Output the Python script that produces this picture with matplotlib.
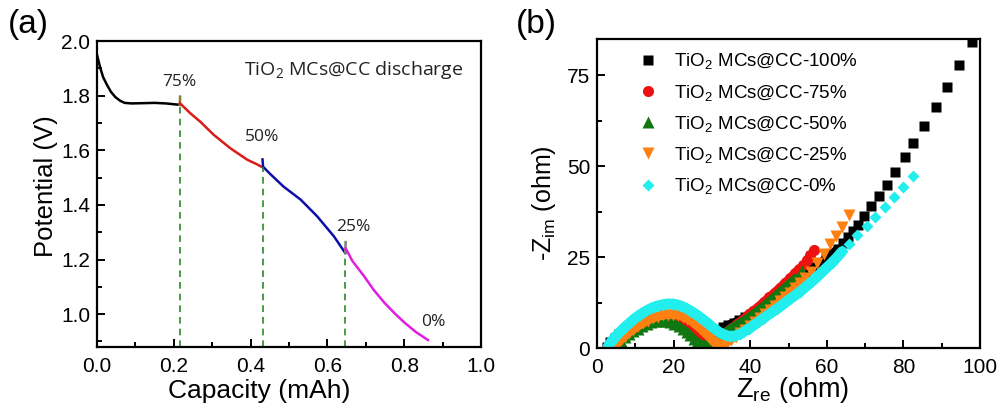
import matplotlib
matplotlib.use('Agg')
import matplotlib.pyplot as plt
from matplotlib.ticker import MultipleLocator

plt.rcParams['font.family'] = ['Liberation Sans', 'DejaVu Sans']
plt.rcParams['mathtext.default'] = 'regular'

# ---- (a) discharge curve (capacity mAh, potential V)
black_c = [0.0, 0.008, 0.016, 0.026, 0.036, 0.048, 0.060, 0.072, 0.09, 0.12, 0.15, 0.18, 0.20, 0.2155]
black_v = [1.950, 1.905, 1.868, 1.840, 1.815, 1.795, 1.782, 1.774, 1.772, 1.773, 1.774, 1.772, 1.769, 1.767]
spike1_c = [0.2155, 0.2165]
spike1_v = [1.767, 1.797]
red_c = [0.2165, 0.243, 0.269, 0.304, 0.347, 0.391, 0.415, 0.431]
red_v = [1.772, 1.736, 1.705, 1.657, 1.608, 1.566, 1.550, 1.538]
blue_c = [0.431, 0.4325, 0.45, 0.486, 0.53, 0.573, 0.617, 0.6465]
blue_v = [1.567, 1.540, 1.515, 1.467, 1.420, 1.359, 1.285, 1.224]
spike3_c = [0.6465, 0.6475]
spike3_v = [1.224, 1.264]
mag_c = [0.648, 0.665, 0.695, 0.72, 0.747, 0.775, 0.80, 0.83, 0.862]
mag_v = [1.240, 1.195, 1.140, 1.090, 1.044, 1.003, 0.970, 0.935, 0.905]
cut_c = [0.2155, 0.431, 0.6465]
cut_v = [1.767, 1.538, 1.224]
pct_labels = ['75%', '50%', '25%', '0%']
pct_c = [0.215, 0.43, 0.668, 0.876]
pct_v = [1.85, 1.65, 1.32, 0.97]

# ---- (b) Nyquist plots (Z_re, -Z_im in ohm)
x100 = [2.5, 3.5, 4.6, 5.8, 7.0, 8.3, 9.6, 11.0, 12.4, 13.8, 15.2, 16.6, 18.0, 19.4, 20.8,
        22.2, 23.5, 24.8, 26.0, 27.1, 28.1, 29.0, 29.9, 30.8, 31.8, 33.0, 34.3, 35.7, 37.2,
        38.7, 40.2, 41.7, 43.2, 44.7, 46.2, 47.7, 49.2, 50.7, 52.2, 53.7, 55.2, 56.7, 58.2,
        59.7, 61.2, 62.8, 64.1, 65.5, 66.9, 68.2, 69.8, 71.6, 73.7, 75.8, 77.9, 80.3, 82.6,
        85.3, 88.4, 91.3, 94.5, 97.9]
y100 = [0.3, 1.6, 2.8, 3.9, 4.9, 5.8, 6.6, 7.3, 7.8, 8.2, 8.4, 8.5, 8.4, 8.1, 7.6,
        6.9, 6.1, 5.2, 4.4, 3.8, 3.4, 3.3, 3.5, 4.1, 4.9, 5.7, 6.4, 7.0, 7.7,
        8.5, 9.3, 10.3, 11.4, 12.6, 13.8, 15.0, 16.2, 17.4, 18.6, 19.8, 21.0, 22.2, 23.4,
        24.6, 25.9, 27.3, 29.0, 30.7, 32.3, 34.0, 36.3, 39.0, 41.8, 45.0, 48.4, 52.5, 56.3,
        61.0, 66.2, 71.7, 78.0, 84.3]
x75 = [4.2, 5.0, 5.9, 6.9, 8.0, 9.2, 10.4, 11.7, 13.0, 14.3, 15.6, 16.9, 18.2, 19.5, 20.8,
       22.0, 23.2, 24.3, 25.4, 26.4, 27.3, 28.1, 28.9, 29.6, 30.4, 31.4, 32.6, 33.9, 35.2,
       36.6, 38.0, 39.4, 40.8, 42.2, 43.6, 45.0, 46.4, 47.8, 49.2, 50.5, 51.7, 52.8, 53.9,
       54.7, 55.5, 56.6]
y75 = [0.3, 1.4, 2.4, 3.4, 4.3, 5.2, 6.0, 6.7, 7.3, 7.8, 8.1, 8.3, 8.3, 8.1, 7.7,
       7.1, 6.4, 5.6, 4.7, 3.8, 3.0, 2.4, 2.0, 1.9, 2.1, 2.7, 3.5, 4.5, 5.6,
       6.7, 7.8, 9.0, 10.2, 11.4, 12.7, 14.0, 15.3, 16.6, 18.0, 19.3, 20.6, 21.7, 22.8,
       24.2, 25.5, 27.0]
x50 = [4.5, 5.3, 6.2, 7.2, 8.3, 9.4, 10.6, 11.8, 13.0, 14.2, 15.4, 16.6, 17.8, 19.0, 20.2,
       21.3, 22.4, 23.4, 24.3, 25.2, 26.0, 26.8, 27.6, 28.4, 29.3, 30.3, 31.4, 32.6, 33.9,
       35.2, 36.6, 38.0, 39.4, 40.8, 42.2, 43.6, 45.0, 46.4, 47.8, 49.2, 50.5, 51.8, 53.0,
       53.6]
y50 = [0.3, 1.2, 2.1, 3.0, 3.9, 4.7, 5.4, 6.1, 6.7, 7.1, 7.4, 7.5, 7.4, 7.1, 6.6,
       6.0, 5.2, 4.4, 3.5, 2.6, 1.8, 1.2, 0.9, 1.0, 1.5, 2.2, 3.0, 3.8, 4.7,
       5.6, 6.5, 7.4, 8.3, 9.4, 10.5, 11.7, 12.9, 14.2, 15.5, 16.8, 18.0, 19.2, 20.4,
       21.2]
x25 = [4.5, 5.3, 6.2, 7.2, 8.3, 9.5, 10.7, 12.0, 13.3, 14.6, 15.9, 17.2, 18.5, 19.8, 21.1,
       22.4, 23.6, 24.8, 25.9, 26.9, 27.9, 28.8, 29.6, 30.4, 31.2, 32.0, 32.9, 33.9, 35.0,
       36.2, 37.4, 38.7, 40.0, 41.3, 42.6, 43.9, 45.2, 46.5, 47.8, 49.1, 50.4, 51.7, 53.0,
       54.3, 55.8, 57.4, 59.2, 60.9, 62.3, 64.0, 65.8]
y25 = [0.3, 1.2, 2.2, 3.2, 4.2, 5.1, 6.0, 6.8, 7.6, 8.2, 8.7, 9.0, 9.2, 9.2, 9.0,
       8.6, 8.0, 7.2, 6.3, 5.4, 4.4, 3.5, 2.6, 1.8, 1.2, 0.9, 1.0, 1.5, 2.3,
       3.2, 4.1, 5.1, 6.2, 7.2, 8.3, 9.4, 10.5, 11.7, 12.9, 14.1, 15.3, 16.6, 17.9,
       19.2, 21.0, 23.4, 26.0, 28.6, 30.8, 33.4, 36.6]
x0 = [2.8, 3.4, 4.1, 4.9, 5.8, 6.8, 7.8, 8.9, 10.0, 11.2, 12.4, 13.6, 14.8, 16.0, 17.2,
      18.4, 19.6, 20.8, 22.0, 23.2, 24.4, 25.6, 26.8, 27.9, 29.0, 30.0, 31.0, 31.9, 32.8,
      33.7, 34.6, 35.5, 36.4, 37.4, 38.5, 39.7, 40.9, 42.1, 43.3, 44.5, 45.7, 46.9, 48.1,
      49.3, 50.5, 51.7, 52.9, 54.1, 55.3, 56.5, 57.7, 58.9, 60.1, 61.3, 62.5, 64.0, 65.8,
      68.0, 70.4, 72.7, 75.1, 77.6, 80.0, 82.4]
y0 = [0.3, 1.3, 2.3, 3.3, 4.3, 5.3, 6.3, 7.3, 8.3, 9.2, 10.0, 10.7, 11.3, 11.7, 12.0,
      12.2, 12.2, 12.0, 11.6, 11.0, 10.3, 9.5, 8.6, 7.7, 6.8, 5.9, 5.1, 4.4, 3.9,
      3.5, 3.3, 3.3, 3.5, 3.9, 4.6, 5.4, 6.3, 7.2, 8.1, 9.0, 9.9, 10.8, 11.7,
      12.7, 13.6, 14.5, 15.5, 16.5, 17.6, 18.7, 19.9, 21.1, 22.3, 23.5, 24.8, 26.6, 28.6,
      31.0, 33.7, 36.1, 38.7, 41.5, 44.2, 47.3]
legend_labels = ['TiO$_2$ MCs@CC-100%', 'TiO$_2$ MCs@CC-75%', 'TiO$_2$ MCs@CC-50%',
                 'TiO$_2$ MCs@CC-25%', 'TiO$_2$ MCs@CC-0%']

fig = plt.figure(figsize=(10, 4.12), dpi=100)
ax1 = fig.add_axes([0.097, 0.158, 0.384, 0.742])
ax2 = fig.add_axes([0.597, 0.155, 0.383, 0.750])

ann = ['Open Sans', 'DejaVu Sans']
lw = 1.8
ax1.plot(black_c, black_v, color='black', lw=lw)
ax1.plot(spike1_c, spike1_v, color='#8a7a30', lw=lw)
ax1.plot(red_c, red_v, color='#dc1a1a', lw=lw)
ax1.plot(blue_c, blue_v, color='#0d0da8', lw=lw)
ax1.plot(spike3_c, spike3_v, color='#7f7f7f', lw=lw)
ax1.plot(mag_c, mag_v, color='#e01ee0', lw=lw)
ax1.vlines(cut_c, 0.88, cut_v, colors='#2a8a2a', linestyles=(0, (4, 3)), lw=1.2)
for t, c, v in zip(pct_labels, pct_c, pct_v):
    ax1.text(c, v, t, ha='center', va='center', fontsize=12.5, family=ann, color='#222222')
ax1.text(0.955, 0.905, 'TiO$_2$ MCs@CC discharge', transform=ax1.transAxes, ha='right',
         va='center', fontsize=14, family=ann, color='#222222')
ax1.set_xlim(0, 1.0)
ax1.set_ylim(0.88, 2.0)
ax1.xaxis.set_minor_locator(MultipleLocator(0.1))
ax1.yaxis.set_minor_locator(MultipleLocator(0.1))
ax1.set_xticks([0.0, 0.2, 0.4, 0.6, 0.8, 1.0])
ax1.set_xticklabels(['0.0', '0.2', '0.4', '0.6', '0.8', '1.0'])
ax1.set_yticks([1.0, 1.2, 1.4, 1.6, 1.8, 2.0])
ax1.set_yticklabels(['1.0', '1.2', '1.4', '1.6', '1.8', '2.0'])
ax1.set_xlabel('Capacity (mAh)', fontsize=19, va='center')
ax1.xaxis.set_label_coords(0.423, -0.145)
ax1.set_ylabel('Potential (V)', fontsize=18.5, va='center')
ax1.yaxis.set_label_coords(-0.132, 0.525)

# (marker, colour, marker size, line width of the dense band, points in the dense band)
styles = [('s', 'black', 7.5, 6.0, 46),
          ('o', '#ee1111', 8.0, 6.5, 42),
          ('^', '#117711', 8.5, 6.0, 42),
          ('v', '#ff8010', 8.5, 6.0, 43),
          ('D', '#22eeee', 6.3, 7.5, 56)]
series = [(x100, y100), (x75, y75), (x50, y50), (x25, y25), (x0, y0)]
for (xs, ys), (mk, col, ms, blw, nd), lab in zip(series, styles, legend_labels):
    ax2.plot(xs[:nd], ys[:nd], '-', color=col, lw=blw, solid_capstyle='round', zorder=2)
    ax2.plot(xs, ys, mk, color=col, ms=ms, mec='none', label=lab, zorder=2)
ax2.set_xlim(0, 100)
ax2.set_ylim(0, 85)
ax2.xaxis.set_major_locator(MultipleLocator(20))
ax2.xaxis.set_minor_locator(MultipleLocator(10))
ax2.yaxis.set_major_locator(MultipleLocator(25))
ax2.yaxis.set_minor_locator(MultipleLocator(12.5))
ax2.set_xlabel('Z$_{re}$ (ohm)', fontsize=19.5, va='center')
ax2.xaxis.set_label_coords(0.51, -0.135)
ax2.set_ylabel('-Z$_{im}$ (ohm)', fontsize=18, va='center')
ax2.yaxis.set_label_coords(-0.138, 0.47)
ax2.legend(loc='upper left', bbox_to_anchor=(0.075, 0.985), frameon=False, fontsize=13.5,
           handletextpad=0.55, labelspacing=0.6, borderaxespad=0.0, handlelength=1.6)

for ax in (ax1, ax2):
    for s in ax.spines.values():
        s.set_linewidth(1.6)
    ax.tick_params(which='both', direction='in', labelsize=15, width=1.4, top=False, right=False)
    ax.tick_params(which='major', length=6)
    ax.tick_params(which='minor', length=3.5)
    ax.tick_params(axis='x', pad=7)
    ax.tick_params(axis='y', pad=5)

fig.text(0.008, 0.94, '(a)', fontsize=24, ha='left', va='center')
fig.text(0.516, 0.94, '(b)', fontsize=24, ha='left', va='center')

fig.savefig('out.png', dpi=100)
